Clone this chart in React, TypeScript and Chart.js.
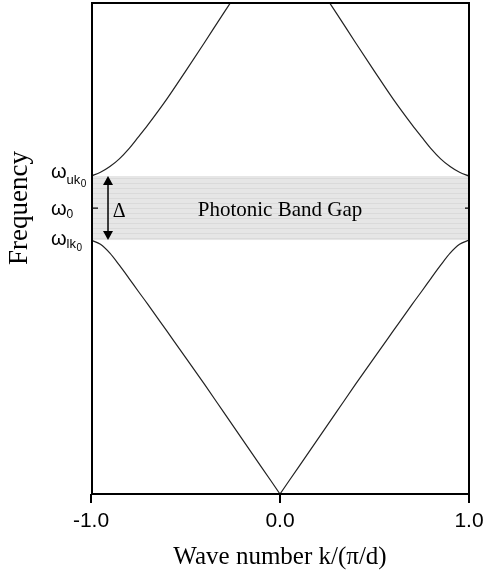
import React, { useEffect, useRef } from 'react';
import { Chart, registerables } from 'chart.js';

Chart.register(...registerables);

// Wave number k/(π/d)
const waveNumbers = [-1, -0.95, -0.9, -0.85, -0.8, -0.75, -0.7, -0.6, -0.5, -0.4, -0.3, -0.2, -0.1, 0, 0.1, 0.2, 0.3, 0.4, 0.5, 0.6, 0.7, 0.75, 0.8, 0.85, 0.9, 0.95, 1];
// Frequency (in units of ω0)
const lowerBand = [0.888, 0.873, 0.842, 0.8, 0.755, 0.709, 0.664, 0.571, 0.478, 0.384, 0.288, 0.192, 0.096, 0, 0.096, 0.192, 0.288, 0.384, 0.478, 0.571, 0.664, 0.709, 0.755, 0.8, 0.842, 0.873, 0.888];
const upperBand = [1.112, 1.125, 1.145, 1.172, 1.207, 1.248, 1.29, 1.38, 1.478, 1.578, 1.68, 1.78, 1.88, 1.98, 1.88, 1.78, 1.68, 1.578, 1.478, 1.38, 1.29, 1.248, 1.207, 1.172, 1.145, 1.125, 1.112];

const xTicks = [-1, 0, 1];
const xTickLabels = ['-1.0', '0.0', '1.0'];

const omegaLower = 0.888;
const omega0 = 1;
const omegaUpper = 1.112;
const yMin = 0;
const yMax = 1.717;

const gapLabel = 'Photonic Band Gap';
const deltaLabel = 'Δ';
const yTitle = 'Frequency';
const xTitle = 'Wave number k/(π/d)';
const arrowK = -0.91;
const deltaK = -0.885;

const half = (vals: number[], side: 'left' | 'right') =>
  waveNumbers
    .map((k, i) => ({ x: k, y: vals[i] }))
    .filter((p) => (side === 'left' ? p.x <= 0 : p.x >= 0));

const SERIF = '"Liberation Serif", "Times New Roman", serif';
const SANS = '"Liberation Sans", Arial, sans-serif';

function drawOmega(ctx: CanvasRenderingContext2D, x: number, base: number, sub: string, subsub: string | null, subDy: number, subSize: number) {
  ctx.textAlign = 'left';
  ctx.textBaseline = 'alphabetic';
  ctx.fillStyle = '#000';
  ctx.font = `20px ${SANS}`;
  ctx.fillText('ω', x, base);
  let cx = x + ctx.measureText('ω').width;
  ctx.font = `${subSize}px ${SANS}`;
  ctx.fillText(sub, cx, base + subDy);
  cx += ctx.measureText(sub).width;
  if (subsub) {
    ctx.font = `10px ${SANS}`;
    ctx.fillText(subsub, cx + 0.5, base + subDy + 3);
  }
}

const bandGapPlugin = {
  id: 'bandGap',
  beforeDatasetsDraw(chart: any) {
    const { ctx, chartArea, scales } = chart;
    const y = scales.y;
    const top = y.getPixelForValue(omegaUpper);
    const bot = y.getPixelForValue(omegaLower);
    ctx.save();
    ctx.fillStyle = '#e6e6e6';
    ctx.fillRect(chartArea.left, top, chartArea.right - chartArea.left, bot - top);
    ctx.strokeStyle = '#dadada';
    ctx.lineWidth = 1;
    for (let yy = top + 2.5; yy < bot; yy += 5) {
      ctx.beginPath();
      ctx.moveTo(chartArea.left, yy);
      ctx.lineTo(chartArea.right, yy);
      ctx.stroke();
    }
    ctx.restore();
  },
  afterDatasetsDraw(chart: any) {
    const { ctx, chartArea, scales } = chart;
    const x = scales.x;
    const y = scales.y;
    const top = y.getPixelForValue(omegaUpper);
    const bot = y.getPixelForValue(omegaLower);
    const mid = y.getPixelForValue(omega0);
    ctx.save();
    // frame
    ctx.strokeStyle = '#000';
    ctx.lineWidth = 2;
    ctx.strokeRect(chartArea.left + 1, chartArea.top, chartArea.right - chartArea.left - 1, chartArea.bottom - chartArea.top);
    // ω0 ticks (inside)
    ctx.beginPath();
    ctx.moveTo(chartArea.left, mid);
    ctx.lineTo(chartArea.left + 7, mid);
    ctx.moveTo(chartArea.right, mid);
    ctx.lineTo(chartArea.right - 4, mid);
    ctx.lineWidth = 1.2;
    ctx.stroke();
    // double arrow
    const ax = x.getPixelForValue(arrowK);
    ctx.fillStyle = '#000';
    ctx.lineWidth = 1.5;
    ctx.beginPath();
    ctx.moveTo(ax, top + 6);
    ctx.lineTo(ax, bot - 6);
    ctx.stroke();
    ctx.beginPath();
    ctx.moveTo(ax, top);
    ctx.lineTo(ax - 5, top + 9);
    ctx.lineTo(ax + 5, top + 9);
    ctx.closePath();
    ctx.fill();
    ctx.beginPath();
    ctx.moveTo(ax, bot);
    ctx.lineTo(ax - 5, bot - 9);
    ctx.lineTo(ax + 5, bot - 9);
    ctx.closePath();
    ctx.fill();
    // Δ
    ctx.font = `20px ${SERIF}`;
    ctx.textAlign = 'left';
    ctx.textBaseline = 'middle';
    ctx.fillText(deltaLabel, x.getPixelForValue(deltaK), mid + 4);
    // gap label
    ctx.font = `21px ${SERIF}`;
    ctx.textAlign = 'center';
    ctx.fillText(gapLabel, x.getPixelForValue(0), mid + 2);
    ctx.restore();
  },
  afterDraw(chart: any) {
    const { ctx, scales } = chart;
    const y = scales.y;
    const top = y.getPixelForValue(omegaUpper);
    const bot = y.getPixelForValue(omegaLower);
    const mid = y.getPixelForValue(omega0);
    ctx.save();
    drawOmega(ctx, 51, top + 2, 'uk', '0', 6, 13);
    drawOmega(ctx, 51, mid + 7, '0', null, 3, 12);
    drawOmega(ctx, 51, bot + 5, 'lk', '0', 3, 13);
    // y title
    ctx.translate(20, mid);
    ctx.rotate(-Math.PI / 2);
    ctx.font = `27px ${SERIF}`;
    ctx.textAlign = 'center';
    ctx.textBaseline = 'middle';
    ctx.fillStyle = '#000';
    ctx.fillText(yTitle, 0, 0);
    ctx.restore();
  },
};

export default function App() {
  const ref = useRef<HTMLCanvasElement>(null);
  useEffect(() => {
    if (!ref.current) return;
    const lineStyle = {
      borderColor: '#222',
      borderWidth: 1.2,
      pointRadius: 0,
      fill: false,
      cubicInterpolationMode: 'monotone' as const,
    };
    const chart = new Chart(ref.current, {
      type: 'line',
      data: {
        datasets: [
          { ...lineStyle, label: 'lower-left', data: half(lowerBand, 'left') },
          { ...lineStyle, label: 'lower-right', data: half(lowerBand, 'right') },
          { ...lineStyle, label: 'upper-left', data: half(upperBand, 'left') },
          { ...lineStyle, label: 'upper-right', data: half(upperBand, 'right') },
        ],
      },
      options: {
        responsive: false,
        animation: false,
        events: [],
        layout: { padding: { top: 3, right: 23, left: 0, bottom: 0 } },
        plugins: { legend: { display: false }, tooltip: { enabled: false }, title: { display: false } },
        scales: {
          x: {
            type: 'linear',
            min: -1,
            max: 1,
            afterBuildTicks: (scale: any) => {
              scale.ticks = xTicks.map((v) => ({ value: v }));
            },
            afterFit: (scale: any) => {
              scale.height = 86;
            },
            ticks: {
              color: '#000',
              font: { family: SANS, size: 21 },
              padding: 6,
              maxRotation: 0,
              autoSkip: false,
              callback: (_v: any, i: number) => xTickLabels[i],
            },
            grid: {
              display: true,
              drawOnChartArea: false,
              drawTicks: true,
              tickLength: 9,
              color: '#000',
              lineWidth: 2,
            },
            border: { display: false },
            title: {
              display: true,
              text: xTitle,
              color: '#000',
              font: { family: SERIF, size: 25 },
              padding: { top: 0, bottom: 8 },
            },
          },
          y: {
            type: 'linear',
            min: yMin,
            max: yMax,
            afterFit: (scale: any) => {
              scale.width = 91;
            },
            ticks: { display: false },
            grid: { display: false },
            border: { display: false },
          },
        },
      },
      plugins: [bandGapPlugin],
    });
    return () => chart.destroy();
  }, []);
  return (
    <div style={{ position: 'absolute', left: 0, top: 0, width: 492, height: 580, background: '#fff' }}>
      <canvas ref={ref} width={492} height={580} style={{ display: 'block', width: 492, height: 580 }} />
    </div>
  );
}
